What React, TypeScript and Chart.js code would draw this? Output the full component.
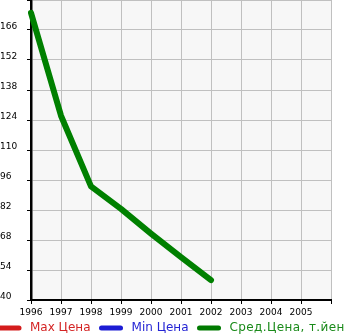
import React, { useEffect, useRef } from "react";
import { Chart, registerables } from "chart.js";

Chart.register(...registerables);

const years = [1996, 1997, 1998, 1999, 2000, 2001, 2002];
const avgPrice = [174, 126, 93, 82.5, 71, 60, 49.3];
const maxPrice: number[] = [];
const minPrice: number[] = [];
const legendLabels = ["Max Цена", "Min Цена", "Сред.Цена, т.йен"];
const legendLineColors = ["#d41c1c", "#1c1cd4", "#007a00"];
const legendTextColors = ["#d42424", "#2424d4", "#1a8a1a"];

const FONT = "DejaVu Sans";

const bgPlugin = {
  id: "plotBg",
  beforeDraw(chart: any) {
    const { ctx, chartArea } = chart;
    ctx.save();
    ctx.fillStyle = "#f7f7f7";
    ctx.fillRect(chartArea.left, chartArea.top, chartArea.right - chartArea.left, chartArea.bottom - chartArea.top);
    ctx.restore();
  },
};

const legendPlugin = {
  id: "customLegend",
  afterDraw(chart: any) {
    const { ctx } = chart;
    ctx.save();
    ctx.font = `12px "${FONT}"`;
    ctx.textBaseline = "middle";
    ctx.textAlign = "left";
    const y = 328;
    let x = -3;
    legendLabels.forEach((label, i) => {
      ctx.strokeStyle = legendLineColors[i];
      ctx.lineWidth = 5;
      ctx.lineCap = "round";
      ctx.beginPath();
      ctx.moveTo(x + 3, y);
      ctx.lineTo(x + 22, y);
      ctx.stroke();
      ctx.fillStyle = legendTextColors[i];
      (ctx as any).letterSpacing = i === 2 ? "0.4px" : "0px";
      ctx.fillText(label, x + 33, y);
      x = x + 33 + ctx.measureText(label).width + 8;
    });
    ctx.restore();
  },
};

export default function App() {
  const ref = useRef<HTMLCanvasElement>(null);
  useEffect(() => {
    if (!ref.current) return;
    const chart = new Chart(ref.current, {
      type: "line",
      data: {
        datasets: [
          { label: legendLabels[0], data: maxPrice as any, borderColor: legendLineColors[0] },
          { label: legendLabels[1], data: minPrice as any, borderColor: legendLineColors[1] },
          {
            label: legendLabels[2],
            data: years.map((y, i) => ({ x: y, y: avgPrice[i] })),
            borderColor: "#008000",
            borderWidth: 6,
            borderCapStyle: "round",
            borderJoinStyle: "round",
            pointRadius: 0,
            tension: 0,
            clip: false as any,
          },
        ],
      },
      options: {
        responsive: false,
        animation: false,
        layout: { padding: { left: 0, right: 14, top: 0, bottom: 0 } },
        plugins: { legend: { display: false }, tooltip: { enabled: false } },
        scales: {
          x: {
            type: "linear",
            min: 1996,
            max: 2006,
            ticks: {
              stepSize: 1,
              autoSkip: false,
              maxRotation: 0,
              padding: 3,
              color: "#000",
              font: { family: FONT, size: 9 },
              callback: (v: any) => (v === 2006 ? "" : String(v)),
            },
            grid: { color: "#c0c0c0", tickColor: "#000", tickLength: 4, lineWidth: 1 },
            border: { color: "#000", width: 2 },
            afterFit: (s: any) => {
              s.height = 35;
              s.paddingLeft = 0;
              s.paddingRight = 0;
            },
          },
          y: {
            min: 40,
            max: 180,
            ticks: {
              stepSize: 14,
              autoSkip: false,
              crossAlign: "far",
              labelOffset: -3.5,
              color: "#000",
              font: { family: FONT, size: 9 },
              callback: (v: any) => (v === 180 ? "" : String(v)),
            },
            grid: { color: "#c0c0c0", tickColor: "#000", tickLength: 4, lineWidth: 1 },
            border: { color: "#000", width: 2.5 },
            afterFit: (s: any) => {
              s.width = 31;
              s.paddingTop = 0;
              s.paddingBottom = 0;
            },
          },
        },
      },
      plugins: [bgPlugin, legendPlugin],
    });
    return () => chart.destroy();
  }, []);
  return (
    <div style={{ position: "fixed", left: 0, top: 0, width: 345, height: 335 }}>
      <canvas ref={ref} width={345} height={335} style={{ display: "block" }} />
    </div>
  );
}
